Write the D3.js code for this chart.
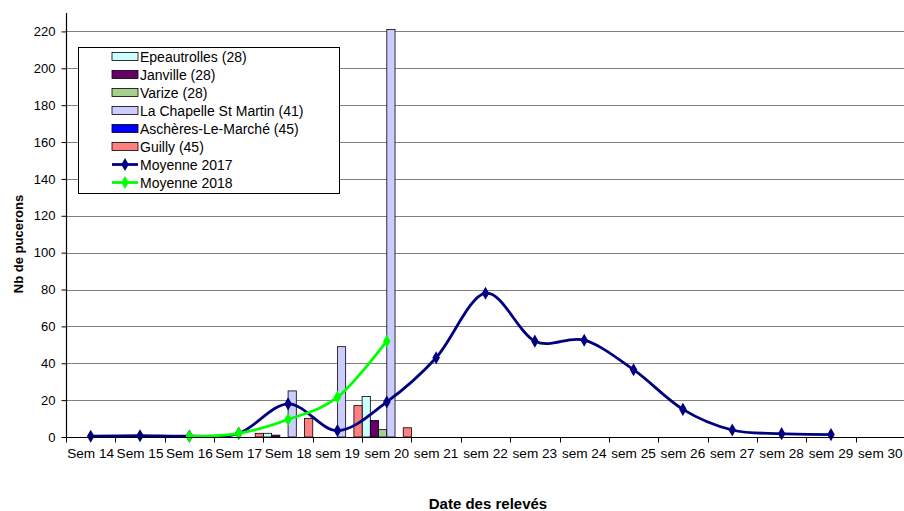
<!DOCTYPE html>
<html>
<head>
<meta charset="utf-8">
<script src="https://cdn.jsdelivr.net/npm/d3@7/dist/d3.min.js"></script>
<style>
  html, body { margin: 0; padding: 0; background: #fff; }
  svg { display: block; font-family: "Liberation Sans", Arial, sans-serif; }
</style>
</head>
<body>
<svg id="chart" width="904" height="511"></svg>
<script>
// ---- data ----
const categories = ["Sem 14","Sem 15","Sem 16","Sem 17","Sem 18","sem 19","sem 20","sem 21","sem 22","sem 23","sem 24","sem 25","sem 26","sem 27","sem 28","sem 29","sem 30"];
const seriesNames = ["Epeautrolles (28)","Janville (28)","Varize (28)","La Chapelle St Martin (41)","Aschères-Le-Marché (45)","Guilly (45)"];
const epeautrolles = [null,null,null,null,2,null,22,null,null,null,null,null,null,null,null,null,null];
const janville     = [null,null,null,null,1,null,9,null,null,null,null,null,null,null,null,null,null];
const varize       = [null,null,null,null,null,null,4,null,null,null,null,null,null,null,null,null,null];
const laChapelle   = [null,null,null,null,25,49,221,null,null,null,null,null,null,null,null,null,null];
const ascheres     = [null,null,null,null,null,null,null,null,null,null,null,null,null,null,null,null,null];
const guilly       = [null,null,null,2,10,17,5,null,null,null,null,null,null,null,null,null,null];
const moyenne2017  = [0.4,0.7,0.5,2,18,3.5,19,43,78,52,52.5,36.5,15,3.8,1.8,1.3,null];
const moyenne2018  = [null,null,0.4,2,9.5,21.6,52,null,null,null,null,null,null,null,null,null,null];
const yTicks = [0,20,40,60,80,100,120,140,160,180,200,220];
const barColors = ["#CCFFFF","#660066","#A6D08E","#CCCCFF","#0000FF","#FF8080"];
const lineNames = ["Moyenne 2017","Moyenne 2018"];
const lineColors = ["#000080","#00FF00"];

const barSeries = [epeautrolles, janville, varize, laChapelle, ascheres, guilly];
const lineSeries = [moyenne2017, moyenne2018];

// ---- layout ----
const svg = d3.select("#chart");
const pLeft = 66, pRight = 905, pTop = 13, pBottom = 437;

const x = d3.scaleBand().domain(categories).range([pLeft, pRight]).paddingInner(0).paddingOuter(0);
const xInner = d3.scaleBand().domain(d3.range(barSeries.length)).range([0, x.bandwidth()]).padding(0);
const y = d3.scaleLinear().domain([0, 230]).range([pBottom, pTop]);

// gridlines
svg.append("g").selectAll("line").data(yTicks.filter(d => d > 0)).join("line")
  .attr("x1", pLeft).attr("x2", pRight)
  .attr("y1", d => Math.round(y(d)) + 0.5).attr("y2", d => Math.round(y(d)) + 0.5)
  .attr("stroke", "#808080").attr("stroke-width", 1);

// bars
barSeries.forEach((vals, si) => {
  svg.append("g").selectAll("rect")
    .data(vals.map((v, i) => ({v, c: categories[i]})).filter(d => d.v != null))
    .join("rect")
    .attr("x", d => x(d.c) + xInner(si))
    .attr("y", d => y(d.v))
    .attr("width", xInner.bandwidth())
    .attr("height", d => pBottom - y(d.v))
    .attr("fill", barColors[si])
    .attr("stroke", "#000").attr("stroke-width", 0.8);
});

// lines
const diamond = d3.symbol().type(d3.symbolDiamond).size(50);
lineSeries.forEach((vals, li) => {
  const pts = vals.map((v, i) => ({v, c: categories[i]})).filter(d => d.v != null);
  const line = d3.line()
    .x(d => x(d.c) + x.bandwidth() / 2)
    .y(d => y(d.v))
    .curve(d3.curveCardinal.tension(0));
  svg.append("path").datum(pts)
    .attr("d", line)
    .attr("fill", "none")
    .attr("stroke", lineColors[li])
    .attr("stroke-width", 2.8);
  svg.append("g").selectAll("path").data(pts).join("path")
    .attr("d", diamond)
    .attr("transform", d => `translate(${x(d.c) + x.bandwidth() / 2},${y(d.v)})`)
    .attr("fill", lineColors[li]);
});

// y axis
const yAxis = d3.axisLeft(y).tickValues(yTicks).tickSize(5).tickPadding(6);
const gy = svg.append("g").attr("transform", `translate(${pLeft + 0.5},0)`).call(yAxis);
gy.select(".domain").attr("d", `M0,${pTop}V${pBottom}`).attr("stroke", "#000").attr("stroke-width", 1.2);
gy.selectAll(".tick line").attr("stroke", "#000");
gy.selectAll(".tick text").attr("font-size", 13).attr("fill", "#000")
  .attr("font-family", "'Liberation Sans', Arial, sans-serif");

// x axis
const gx = svg.append("g").attr("transform", `translate(0,${pBottom + 0.5})`);
gx.append("line").attr("x1", pLeft).attr("x2", pRight).attr("y1", 0).attr("y2", 0)
  .attr("stroke", "#000").attr("stroke-width", 1.2);
const boundaries = categories.map(c => x(c)).concat([x(categories[categories.length - 1]) + x.bandwidth()]);
gx.selectAll("line.tk").data(boundaries).join("line").attr("class", "tk")
  .attr("x1", d => Math.round(d) + 0.5).attr("x2", d => Math.round(d) + 0.5)
  .attr("y1", 0).attr("y2", 5).attr("stroke", "#000");
gx.selectAll("text").data(categories).join("text")
  .attr("x", d => x(d) + x.bandwidth() / 2)
  .attr("y", 20)
  .attr("text-anchor", "middle")
  .attr("font-size", 13.6)
  .attr("fill", "#000")
  .text(d => d);

// axis titles
svg.append("text")
  .attr("transform", "translate(23,244) rotate(-90)")
  .attr("text-anchor", "middle")
  .attr("font-size", 13).attr("font-weight", "bold")
  .text("Nb de pucerons");
svg.append("text")
  .attr("x", 488).attr("y", 509)
  .attr("text-anchor", "middle")
  .attr("font-size", 15).attr("font-weight", "bold")
  .text("Date des relevés");

// legend
const lg = svg.append("g");
lg.append("rect").attr("x", 78.5).attr("y", 47.5).attr("width", 261).attr("height", 146)
  .attr("fill", "#fff").attr("stroke", "#000").attr("stroke-width", 1);
const rowY = i => 56.5 + i * 18;
seriesNames.forEach((name, i) => {
  lg.append("rect").attr("x", 112).attr("y", rowY(i) - 4).attr("width", 26).attr("height", 8)
    .attr("fill", barColors[i]).attr("stroke", "#000").attr("stroke-width", 0.8);
  lg.append("text").attr("x", 140).attr("y", rowY(i) + 5).attr("font-size", 14).text(name);
});
lineNames.forEach((name, j) => {
  const i = seriesNames.length + j;
  lg.append("line").attr("x1", 112).attr("x2", 138).attr("y1", rowY(i)).attr("y2", rowY(i))
    .attr("stroke", lineColors[j]).attr("stroke-width", 2.8);
  lg.append("path").attr("d", diamond).attr("transform", `translate(125,${rowY(i)})`).attr("fill", lineColors[j]);
  lg.append("text").attr("x", 140).attr("y", rowY(i) + 5).attr("font-size", 14).text(name);
});
</script>
</body>
</html>
